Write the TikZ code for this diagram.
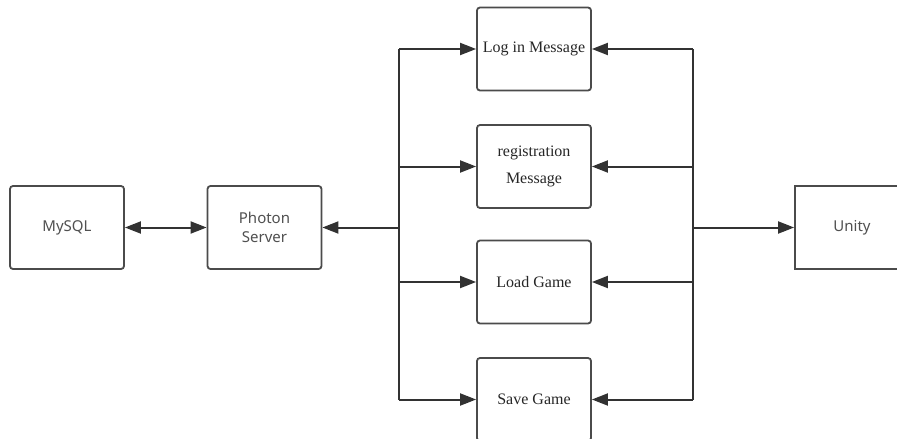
\documentclass[tikz,border=0pt]{standalone}
\usepackage{fontspec}
\setmainfont{Liberation Serif}
\setsansfont{Noto Sans}
\usetikzlibrary{arrows.meta,positioning}

\definecolor{boxgray}{RGB}{75,75,75}
\definecolor{linegray}{RGB}{50,50,50}
\definecolor{textgray}{RGB}{80,80,80}

\begin{document}
\begin{tikzpicture}[x=1pt,y=-1pt,
	box/.style={draw=boxgray, line width=1.8pt, rounded corners=3pt, fill=white,
		minimum width=114pt, minimum height=83pt, inner sep=0pt, align=center},
	sansbox/.style={box, font=\sffamily\fontsize{15}{19}\selectfont, text=textgray},
	serifbox/.style={box, font=\rmfamily\fontsize{16}{19}\selectfont, text=black!85},
	link/.style={draw=linegray, line width=2pt, -{Triangle[length=16pt,width=12pt]}},
	bus/.style={draw=linegray, line width=2pt},
]

% frame %{{{1

	\useasboundingbox (0,0) rectangle (897,439);
	\clip (0,0) rectangle (897,439);

% parameters %{{{1

	\def\lx{399}
	\def\rx{693}

% boxes %{{{1

	\node[sansbox] (mysql)  at (67,227.5)  {MySQL};
	\node[sansbox] (photon) at (264.5,227.5) {Photon\\Server};

	\node[serifbox] (login)  at (534,49)    {Log in Message};
	\node[serifbox] (regist) at (534,166.5) {registration\\[8pt]Message};
	\node[serifbox] (load)   at (534,282)   {Load Game};
	\node[serifbox] (save)   at (534,399.5) {Save Game};

	\node[sansbox, rounded corners=0pt] (unity) at (852,227.5) {Unity};

% bus coordinates %{{{1

	\coordinate (lbus) at (\lx,227.5);
	\coordinate (rbus) at (\rx,227.5);

% buses %{{{1

	\draw[bus] (lbus |- login.west) -- (lbus |- save.west);
	\draw[bus] (rbus |- login.east) -- (rbus |- save.east);

% connectors %{{{1

	\draw[link, {Triangle[length=16pt,width=12pt]}-{Triangle[length=16pt,width=12pt]}] (mysql) -- (photon);
	\draw[link] (lbus) -- (photon);

	\draw[link] (lbus |- login.west)  -- (login.west);
	\draw[link] (lbus |- regist.west) -- (regist.west);
	\draw[link] (lbus |- load.west)   -- (load.west);
	\draw[link] (lbus |- save.west)   -- (save.west);

	\draw[link] (rbus |- login.east)  -- (login.east);
	\draw[link] (rbus |- regist.east) -- (regist.east);
	\draw[link] (rbus |- load.east)   -- (load.east);
	\draw[link] (rbus |- save.east)   -- (save.east);

	\draw[link] (rbus) -- (unity);

% closing %{{{1

\end{tikzpicture}
\end{document}
